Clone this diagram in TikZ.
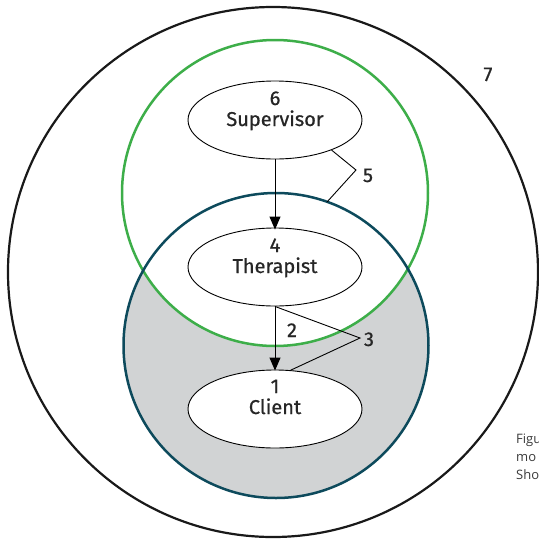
\documentclass[tikz,border=0pt]{standalone}
\usepackage{fontspec}
\setmainfont{Fira Sans}
\newfontfamily\medfont{Fira Sans}[FakeBold=0.7]
\newfontfamily\capfont{Open Sans}
\usetikzlibrary{shapes.geometric,arrows.meta}
\definecolor{ringgreen}{HTML}{3DAE49}
\definecolor{ringteal}{HTML}{0D4A5C}
\definecolor{fillgray}{HTML}{D1D3D4}
\definecolor{captext}{HTML}{3A3A3A}
\tikzset{
  role/.style={ellipse, draw=black, line width=0.9pt, fill=white, minimum width=174pt, minimum height=78pt, inner sep=0pt},
  lbl/.style={font=\medfont\fontsize{20}{22}\selectfont, anchor=base, inner sep=0pt, text=black!85},
  bracket/.style={line width=0.9pt, black},
  flow/.style={line width=1pt, -{Triangle[length=13pt,width=11pt]}},
  captxt/.style={font=\capfont\fontsize{13}{15}\selectfont, text=captext, anchor=base west, inner sep=0pt}
}
\begin{document}
\begin{tikzpicture}[x=1pt,y=-1pt]
\useasboundingbox (0,0) rectangle (539,539);
% circles
\fill[fillgray] (276,345.5) circle (152.5);
\fill[white] (275,193) circle (153);
\draw[line width=2.2pt, black!90] (273,272) circle (265);
\draw[line width=2.5pt, ringgreen] (275,193) circle (153);
\draw[line width=2.5pt, ringteal] (276,345.5) circle (152.5);
% ellipses
\node[role] (sup) at (275,120) {};
\node[role] (ther) at (275,267) {};
\node[role] (cli) at (275,409) {};
% texts
\node[lbl] (n6) at (275,105) {6};
\node[lbl] (tsup) at (275,126) {Supervisor};
\node[lbl] (n4) at (275,252) {4};
\node[lbl] (tther) at (275,273) {Therapist};
\node[lbl] (n1) at (275,393) {1};
\node[lbl] (tcli) at (275,414) {Client};
\node[lbl] (n2) at (292,337) {2};
\node[lbl] (n3) at (369,346) {3};
\node[lbl] (n5) at (368,182) {5};
\node[lbl] (n7) at (488,81) {7};
% arrows
\draw[flow] (sup.south) -- ([yshift=-2pt]ther.north);
\draw[flow] (ther.south) -- ([yshift=-1pt]cli.north);
% brackets
\coordinate (v5) at (356,170);
\coordinate (e5) at (327,202);
\draw[bracket] (sup.-28) -- (v5) -- (e5);
\coordinate (v3) at (360,338);
\draw[bracket] (ther.south) -- (v3) -- (cli.68);
% caption (cut off)
\node[captxt] (c1) at (516,443) {Figu};
\node[captxt] (c2) at (516,461) {mo};
\node[captxt] (c3) at (516,479) {Sho};
\end{tikzpicture}
\end{document}
